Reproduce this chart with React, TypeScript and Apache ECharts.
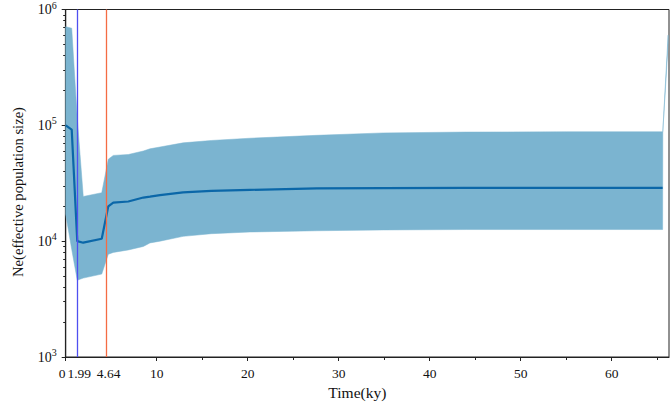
import React, { useEffect, useRef } from "react";
import * as echarts from "echarts";

// Time in ky (x) and effective population size (y)
const timeKy = [0, 0.66, 1.27, 1.93, 3.96, 4.68, 5.23, 6.88, 8.53, 9.26, 10.36, 12.9, 16.0, 20.25, 27.6, 34.9, 44, 55, 65.6];
const neMedian = [1.0e5, 9.2e4, 1.0e4, 9.7e3, 1.05e4, 2.0e4, 2.15e4, 2.2e4, 2.38e4, 2.42e4, 2.5e4, 2.64e4, 2.72e4, 2.77e4, 2.86e4, 2.87e4, 2.88e4, 2.88e4, 2.88e4];
const neLower = [1.7e4, 8.5e3, 4.6e3, 4.8e3, 5.2e3, 7.7e3, 8.0e3, 8.4e3, 9.0e3, 9.66e3, 1.0e4, 1.1e4, 1.16e4, 1.2e4, 1.23e4, 1.25e4, 1.26e4, 1.26e4, 1.26e4];
const neUpper = [7.1e5, 6.9e5, 1.15e5, 2.43e4, 2.62e4, 5.1e4, 5.5e4, 5.6e4, 6.0e4, 6.27e4, 6.5e4, 7.06e4, 7.4e4, 7.74e4, 8.2e4, 8.6e4, 8.75e4, 8.8e4, 8.8e4];
// last points of the confidence band (after the median ends)
const tailTime = [65.62, 66.2];
const tailLower = [8.8e4, 5.0e5];
const tailUpper = [8.8e4, 6.0e5];

const xMajorTicks = [0, 10, 20, 30, 40, 50, 60];
const xMinorTicks = [15, 25, 35, 45, 55, 65];
const yMinorTicks = [2, 3, 4, 5, 6, 7, 8, 9].flatMap((m) => [m * 1e3, m * 1e4, m * 1e5]);

const markers = [
  { at: 1.27, label: "1.99", color: "#4f4ff0" },
  { at: 4.5, label: "4.64", color: "#f46c44" },
];

const X_TITLE = "Time(ky)";
const Y_TITLE = "Ne(effective population size)";

const FONT = "Liberation Serif";

export default function App() {
  const ref = useRef<HTMLDivElement>(null);
  useEffect(() => {
    if (!ref.current) return;
    const chart = echarts.init(ref.current, undefined, { renderer: "svg" });
    const bandX = [...timeKy, ...tailTime];
    const bandLo = [...neLower, ...tailLower];
    const bandHi = [...neUpper, ...tailUpper];
    const n = bandX.length;
    chart.setOption({
      animation: false,
      grid: { left: 65.7, right: 2, top: 6, bottom: 49, show: true, borderColor: "#222", borderWidth: 1, containLabel: false },
      graphic: [
        {
          type: "text",
          x: 18,
          y: 192,
          rotation: Math.PI / 2,
          style: {
            text: Y_TITLE,
            fontFamily: FONT,
            fontSize: 14.6,
            fill: "#111",
            align: "center",
            verticalAlign: "middle",
          },
        },
      ],
      xAxis: [
        {
          type: "value",
          min: 0,
          max: 66.3,
          interval: 10,
          name: X_TITLE,
          nameLocation: "middle",
          nameGap: 27,
          nameTextStyle: { fontFamily: FONT, fontSize: 15.5, color: "#111", padding: [0, 20, 0, 0] },
          axisLine: { lineStyle: { color: "#222", width: 1.2 } },
          axisTick: { customValues: xMajorTicks, length: 4, lineStyle: { color: "#222" } },
          axisLabel: {
            customValues: xMajorTicks,
            fontFamily: FONT,
            fontSize: 13.5,
            color: "#111",
            margin: 9,
            formatter: (v: number) => (v === 0 ? "{z|0}" : String(v)),
            rich: { z: { fontFamily: FONT, fontSize: 13.5, color: "#111", padding: [0, 7, 0, 0] } },
          },
          splitLine: { show: false },
        },
        {
          type: "value",
          min: 0,
          max: 66.3,
          position: "bottom",
          axisLine: { show: false },
          axisTick: { customValues: xMinorTicks, length: 3, lineStyle: { color: "#222" } },
          axisLabel: { show: false },
          splitLine: { show: false },
        },
      ],
      yAxis: [
        {
          type: "log",
          logBase: 10,
          min: 1e3,
          max: 1e6,
          axisLine: { show: true, lineStyle: { color: "#222", width: 1.2 } },
          axisTick: { show: true, length: 4, lineStyle: { color: "#222" } },
          axisLabel: {
            margin: 9,
            formatter: (v: number) => `{b|10}{s|${Math.round(Math.log10(v))}}`,
            rich: {
              b: { fontFamily: FONT, fontSize: 14, color: "#111", lineHeight: 19 },
              s: { fontFamily: FONT, fontSize: 10, color: "#111", lineHeight: 10, verticalAlign: "top" },
            },
          },
          splitLine: { show: false },
        },
        {
          type: "log",
          logBase: 10,
          min: 1e3,
          max: 1e6,
          position: "left",
          axisLine: { show: false },
          axisTick: { show: true, customValues: yMinorTicks, length: 2.5, lineStyle: { color: "#222" } },
          axisLabel: { show: false },
          splitLine: { show: false },
        },
      ],
      series: [
        {
          type: "custom",
          name: "band",
          xAxisIndex: 0,
          yAxisIndex: 0,
          silent: true,
          z: 1,
          data: bandX.map((x, i) => [x, bandLo[i], bandHi[i]]),
          encode: { x: 0, y: [1, 2] },
          renderItem: (params: any, api: any) => {
            if (params.dataIndex !== 0) return null;
            const pts: number[][] = [];
            for (let i = 0; i < n; i++) pts.push(api.coord([bandX[i], bandHi[i]]));
            for (let i = n - 1; i >= 0; i--) pts.push(api.coord([bandX[i], bandLo[i]]));
            return { type: "polygon", shape: { points: pts }, style: { fill: "#7bb4d0", stroke: "#7bb4d0", lineWidth: 0.5 } };
          },
        },
        {
          type: "line",
          name: "median",
          xAxisIndex: 0,
          yAxisIndex: 0,
          z: 3,
          symbol: "none",
          data: timeKy.map((x, i) => [x, neMedian[i]]),
          lineStyle: { color: "#0b67a8", width: 2.2 },
          markLine: {
            silent: true,
            symbol: "none",
            animation: false,
            data: markers.map((m) => ({
              xAxis: m.at,
              lineStyle: { color: m.color, width: 1.3, type: "solid" },
              label: {
                show: true,
                position: "start",
                formatter: m.label,
                fontFamily: FONT,
                fontSize: 13.5,
                color: "#111",
                distance: 9,
                offset: [2, 0],
              },
            })),
          },
        },
      ],
    });
    return () => chart.dispose();
  }, []);
  return <div ref={ref} style={{ position: "absolute", left: 0, top: 0, width: 671, height: 406 }} />;
}
